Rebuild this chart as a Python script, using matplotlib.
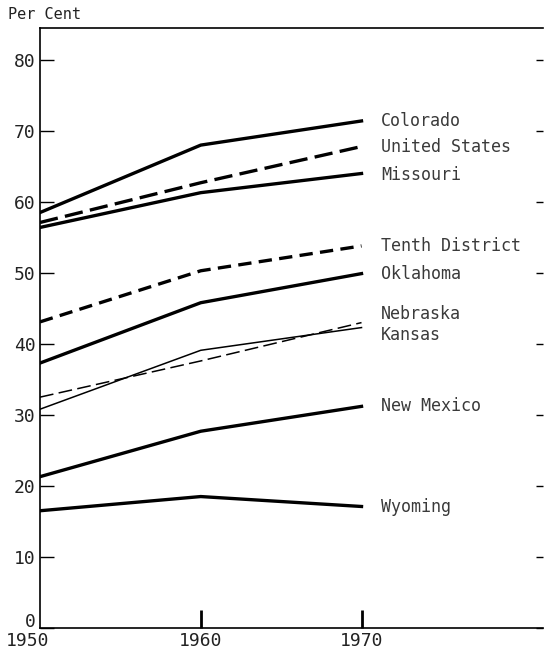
import matplotlib.pyplot as plt
import matplotlib.transforms as mtransforms

years = [1950, 1960, 1970]

colorado = [58.5, 68.0, 71.4]
united_states = [57.1, 62.7, 67.8]
missouri = [56.4, 61.3, 64.0]
tenth_district = [43.1, 50.3, 53.8]
oklahoma = [37.3, 45.8, 49.9]
nebraska = [32.5, 37.6, 43.0]
kansas = [30.8, 39.1, 42.3]
new_mexico = [21.3, 27.7, 31.2]
wyoming = [16.5, 18.5, 17.1]

names = ["Colorado", "United States", "Missouri", "Tenth District", "Oklahoma",
         "Nebraska", "Kansas", "New Mexico", "Wyoming"]
# label heights (data units), nudged where lines end close together
label_y = [71.4, 67.7, 63.8, 53.8, 49.9, 44.2, 41.3, 31.3, 17.0]

yticks = [0, 10, 20, 30, 40, 50, 60, 70, 80]

plt.rcParams['font.family'] = ['DejaVu Sans Mono', 'DejaVu Sans']

fig = plt.figure(figsize=(5.44, 6.5), dpi=100)
ax = fig.add_axes([0.0735, 0.034, 0.925, 0.923])

thick = 2.4
thin = 1.1
ax.plot(years, colorado, color="black", lw=thick)
ax.plot(years, united_states, color="black", lw=thick, dashes=(5.5, 2.2))
ax.plot(years, missouri, color="black", lw=thick)
ax.plot(years, tenth_district, color="black", lw=thick, dashes=(4, 2.2))
ax.plot(years, oklahoma, color="black", lw=thick)
ax.plot(years, nebraska, color="black", lw=thin, dashes=(9, 3.5))
ax.plot(years, kansas, color="black", lw=thin)
ax.plot(years, new_mexico, color="black", lw=thick)
ax.plot(years, wyoming, color="black", lw=thick)

for name, y in zip(names, label_y):
    ax.text(1971.2, y, name, fontsize=12, color="#3a3a3a", va="center", ha="left")

ax.set_xlim(1950, 1981.3)
ax.set_ylim(0, 84.5)

ax.set_yticks(yticks)
ax.set_yticklabels([str(v) for v in yticks], fontsize=13, color="#222222")
ax.tick_params(axis="y", direction="in", length=10, width=1.0, left=True, right=True, pad=3)
for t in ax.yaxis.get_major_ticks():
    t.tick2line.set_markersize(5)
# lift the "0" a little so it clears the 1950 label
zero = ax.yaxis.get_major_ticks()[0].label1
zero.set_transform(zero.get_transform() + mtransforms.ScaledTranslation(0, 6 / 72, fig.dpi_scale_trans))

ax.set_xticks([1950, 1960, 1970])
ax.set_xticklabels(["1950", "1960", "1970"], fontsize=13, color="#222222")
ax.tick_params(axis="x", direction="in", length=13, width=2.0, pad=3)
first = ax.xaxis.get_major_ticks()[0]
first.tick1line.set_visible(False)
first.label1.set_transform(first.label1.get_transform()
                           + mtransforms.ScaledTranslation(-9 / 72, 0, fig.dpi_scale_trans))

for s in ["left", "bottom", "top"]:
    ax.spines[s].set_linewidth(1.2)
ax.spines["right"].set_visible(False)

fig.text(0.014, 0.977, "Per Cent", fontsize=11, color="#222222", va="center", ha="left")

fig.savefig("out.png", dpi=100)
